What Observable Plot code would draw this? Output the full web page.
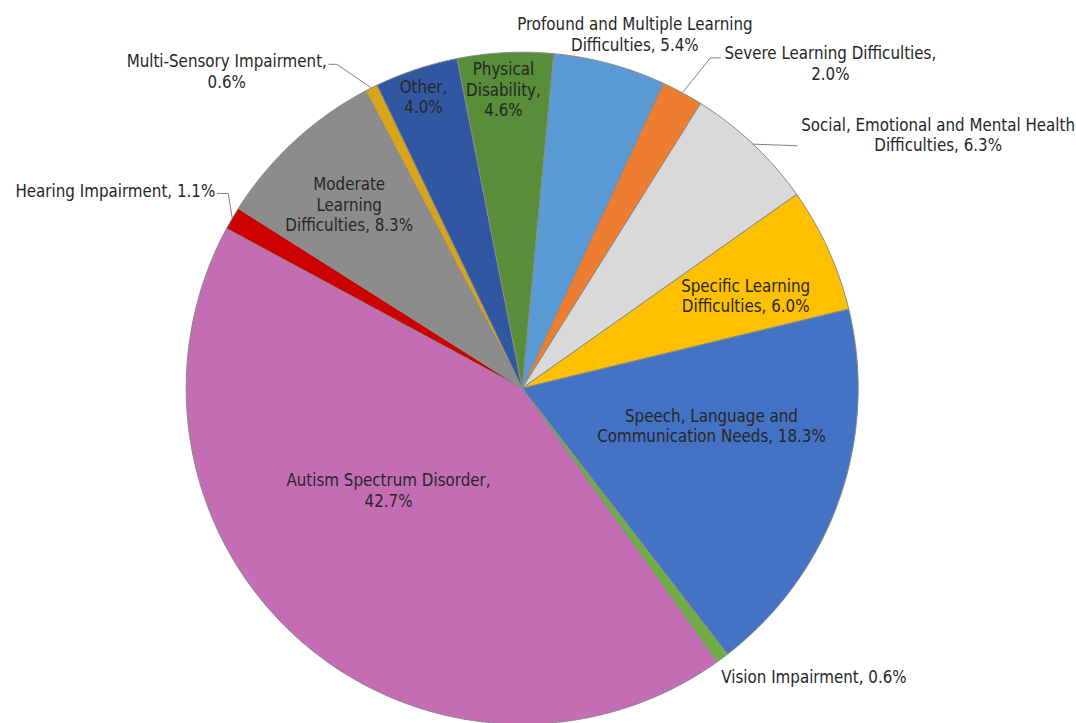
<!DOCTYPE html>
<html>
<head>
<meta charset="utf-8">
<script src="https://cdn.jsdelivr.net/npm/d3@7"></script>
<script src="https://cdn.jsdelivr.net/npm/@observablehq/plot@0.6"></script>
<style>
  html, body { margin: 0; padding: 0; background: #ffffff; }
  #chart { width: 1076px; height: 723px; }
</style>
</head>
<body>
<div id="chart"></div>
<script>
// ---------------- data ----------------
const categories = [
  "Autism Spectrum Disorder",
  "Hearing Impairment",
  "Moderate Learning Difficulties",
  "Multi-Sensory Impairment",
  "Other",
  "Physical Disability",
  "Profound and Multiple Learning Difficulties",
  "Severe Learning Difficulties",
  "Social, Emotional and Mental Health Difficulties",
  "Specific Learning Difficulties",
  "Speech, Language and Communication Needs",
  "Vision Impairment"
];
const values = [42.7, 1.1, 8.3, 0.6, 4.0, 4.6, 5.4, 2.0, 6.3, 6.0, 18.3, 0.6];
const colors = ["#c46db5", "#cc0000", "#8c8c8c", "#d8a418", "#3157a2", "#588d39",
                "#5b9bd5", "#ed7d31", "#d9d9d9", "#ffc000", "#4472c4", "#70ad47"];
const labelTemplates = [
  "Autism Spectrum Disorder,\n{v}",
  "Hearing Impairment, {v}",
  "Moderate\nLearning\nDifficulties, {v}",
  "Multi-Sensory Impairment,\n{v}",
  "Other,\n{v}",
  "Physical\nDisability,\n{v}",
  "Profound and Multiple Learning\nDifficulties, {v}",
  "Severe Learning Difficulties,\n{v}",
  "Social, Emotional and Mental Health\nDifficulties, {v}",
  "Specific Learning\nDifficulties, {v}",
  "Speech, Language and\nCommunication Needs, {v}",
  "Vision Impairment, {v}"
];
// label placement (polar, relative to slice mid-angle; radius in pie radii)
const labelAngleOffset = [11.3, 2.5, -0.5, -16.3, -0.3, -0.7, 2.5, 15.0, 15.2, 1.9, -8.3, 1.95];
const labelRadius      = [0.50, 1.0875, 0.752, 1.29, 0.917, 0.891, 1.107, 1.333, 1.45, 0.72, 0.574, 1.043];
const labelAnchor      = ["middle", "end", "middle", "middle", "middle", "middle",
                          "middle", "middle", "middle", "middle", "middle", "start"];
// leader lines: which text line they attach to, and the elbow length (px)
const leaderLine  = [null, 0, null, 0, null, null, null, 0, 1, null, null, null];
const leaderElbow = [null, 11, null, 8, null, null, null, 10, 0, null, null, null];
const leaderDy    = [null, 3.5, null, 3.5, null, null, null, 5, 1, null, null, null];

// ---------------- layout ----------------
const W = 1076, H = 723;
const CX = 521.7, CY = 387.7, R = 336;      // pie centre / radius in px
const startAngle = 144.5;                    // degrees clockwise from 12 o'clock
const fontFamily = "'DejaVu Sans Condensed', 'DejaVu Sans', sans-serif";
const fontSize = 16.8;
const lineHeight = 20.5;                     // px

const total = d3.sum(values);
const rad = a => a * Math.PI / 180;
const pt = (a, r) => [r * Math.sin(rad(a)), r * Math.cos(rad(a))];

// slices as polygons in unit coordinates
let cum = 0;
const slices = categories.map((c, i) => {
  const a0 = startAngle + cum / total * 360;
  cum += values[i];
  const a1 = startAngle + cum / total * 360;
  return {cat: c, a0, a1, mid: (a0 + a1) / 2, i};
});
const poly = [];
for (const s of slices) {
  poly.push({cat: s.cat, x: 0, y: 0});
  const n = Math.max(2, Math.ceil((s.a1 - s.a0) / 0.5));
  for (let k = 0; k <= n; k++) {
    const a = s.a0 + (s.a1 - s.a0) * k / n;
    const [x, y] = pt(a, 1);
    poly.push({cat: s.cat, x, y});
  }
  poly.push({cat: s.cat, x: 0, y: 0});
}

// labels
const canvas = document.createElement("canvas");
const ctx = canvas.getContext("2d");
ctx.font = `${fontSize}px ${fontFamily}`;
const labels = slices.map(s => {
  const i = s.i;
  const text = labelTemplates[i].replace("{v}", values[i].toFixed(1) + "%");
  const a = s.mid + labelAngleOffset[i];
  const [x, y] = pt(a, labelRadius[i]);
  return {cat: s.cat, text, x, y, anchor: labelAnchor[i], mid: s.mid, i};
});

// leader lines
const leaders = [];
for (const L of labels) {
  const li = leaderLine[L.i];
  if (li == null) continue;
  const lines = L.text.split("\n");
  const wMax = d3.max(lines, t => ctx.measureText(t).width);
  const n = lines.length;
  const lx = CX + L.x * R, ly = CY - L.y * R;       // px
  const lineY = ly + (li - (n - 1) / 2) * lineHeight + leaderDy[L.i];
  const side = Math.sin(rad(L.mid)) > 0 ? 1 : -1;   // label on right side of pie?
  let ax;
  if (L.anchor === "end") ax = lx + 2;
  else if (L.anchor === "start") ax = lx - 2;
  else ax = side > 0 ? lx - wMax / 2 - 4 : lx + wMax / 2 + 2;
  const ex = ax - side * leaderElbow[L.i];
  const [ix, iy] = pt(L.mid, 1);
  const toU = (px, py) => ({x: (px - CX) / R, y: (CY - py) / R});
  const p1 = toU(ax, lineY), p2 = toU(ex, lineY);
  leaders.push({cat: L.cat, x: p1.x, y: p1.y});
  leaders.push({cat: L.cat, x: p2.x, y: p2.y});
  leaders.push({cat: L.cat, x: ix, y: iy});
}

const chart = Plot.plot({
  width: W,
  height: H,
  margin: 0,
  style: {background: "#ffffff", fontFamily, fontSize: fontSize + "px"},
  x: {domain: [-CX / R, (W - CX) / R], range: [0, W], axis: null},
  y: {domain: [-(H - CY) / R, CY / R], range: [H, 0], axis: null},
  color: {domain: categories, range: colors},
  marks: [
    Plot.line(poly, {x: "x", y: "y", z: "cat", fill: "cat", stroke: "#8a8a8a",
                     strokeWidth: 1, strokeLinejoin: "round", curve: "linear"}),
    Plot.line(leaders, {x: "x", y: "y", z: "cat", stroke: "#808080", strokeWidth: 1,
                        strokeLinejoin: "miter", curve: "linear"}),
    ...["middle", "start", "end"].map(anchor =>
      Plot.text(labels.filter(d => d.anchor === anchor), {
        x: "x", y: "y", text: "text", textAnchor: anchor, lineAnchor: "middle",
        lineHeight: lineHeight / fontSize, fill: "#262626",
        fontSize: fontSize, fontFamily
      })
    )
  ]
});
document.getElementById("chart").appendChild(chart);
</script>
</body>
</html>
